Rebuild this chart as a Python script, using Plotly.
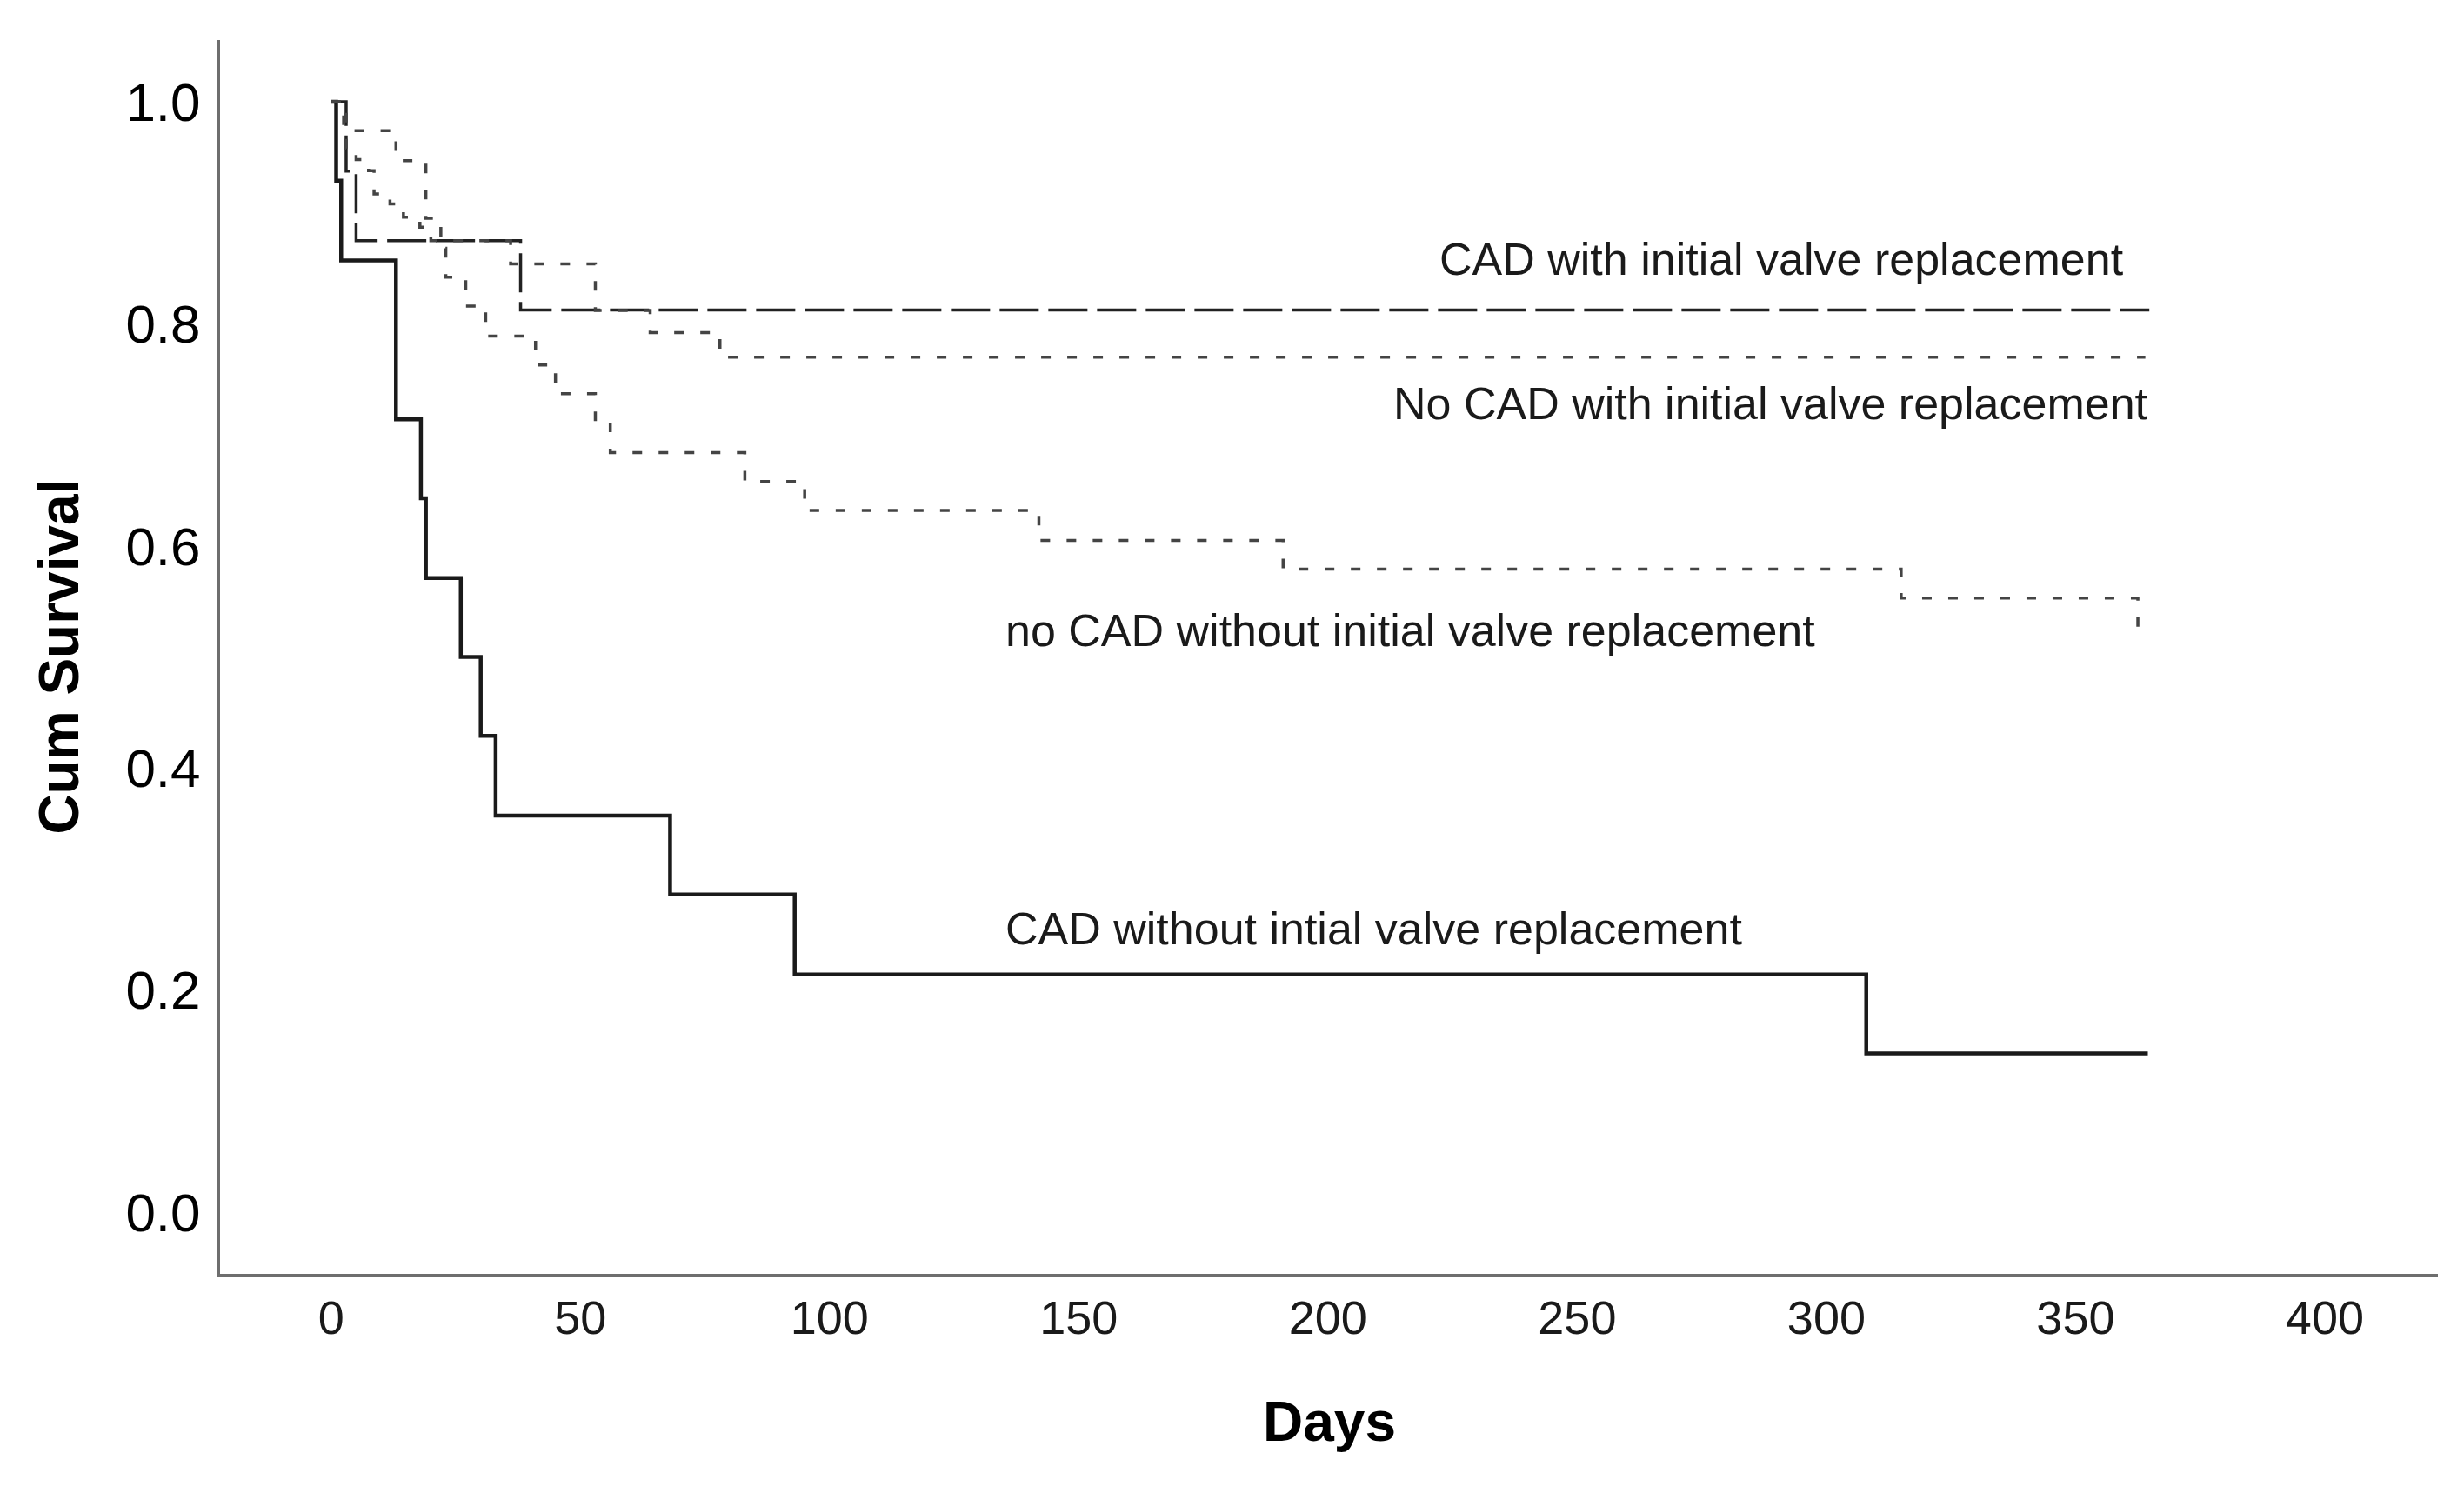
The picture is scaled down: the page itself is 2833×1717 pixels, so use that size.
import plotly.graph_objects as go

# ---- data ----
cad_without_days = [0, 1, 2, 13, 18, 19, 26, 30, 33, 68, 93, 308, 364.5]
cad_without_surv = [1.0, 0.929, 0.857, 0.714, 0.643, 0.571, 0.500, 0.429, 0.357, 0.286, 0.214, 0.143, 0.143]

cad_with_days = [0, 3, 5, 38, 364.8]
cad_with_surv = [1.0, 0.9375, 0.875, 0.8125, 0.8125]

nocad_with_days = [0, 3, 5, 7.5, 8.6, 11.8, 14.5, 17.8, 20, 36, 53, 64, 78, 364]
nocad_with_surv = [1.0, 0.958, 0.948, 0.938, 0.917, 0.908, 0.896, 0.887, 0.875, 0.854, 0.812, 0.792, 0.770, 0.770]

nocad_without_days = [0, 2.5, 13, 19, 22, 23, 27, 31, 41, 45, 53, 56, 83, 95, 142, 191, 315, 362.5, 364]
nocad_without_surv = [1.0, 0.974, 0.947, 0.895, 0.868, 0.842, 0.816, 0.789, 0.763, 0.737, 0.711, 0.684,
                      0.658, 0.632, 0.605, 0.579, 0.553, 0.526, 0.526]

x_ticks = [0, 50, 100, 150, 200, 250, 300, 350, 400]
y_ticks = [0.0, 0.2, 0.4, 0.6, 0.8, 1.0]
y_tick_text = ["0.0", "0.2", "0.4", "0.6", "0.8", "1.0"]

labels = ["CAD with initial valve replacement",
          "No CAD with initial valve replacement",
          "no CAD without initial valve replacement",
          "CAD without intial valve replacement"]
label_x = [360, 365, 135, 135]
label_y = [0.858, 0.728, 0.524, 0.255]
label_anchor = ["right", "right", "left", "left"]

FONT = "Arial, Liberation Sans, sans-serif"

fig = go.Figure()
fig.add_trace(go.Scatter(x=cad_without_days, y=cad_without_surv, mode="lines", line_shape="hv",
                         line=dict(color="#1a1a1a", width=4.5), showlegend=False))
fig.add_trace(go.Scatter(x=cad_with_days, y=cad_with_surv, mode="lines", line_shape="hv",
                         line=dict(color="#222222", width=3.5, dash="45px,11px"), showlegend=False))
fig.add_trace(go.Scatter(x=nocad_with_days, y=nocad_with_surv, mode="lines", line_shape="hv",
                         line=dict(color="#444444", width=3.5, dash="11px,19px"), showlegend=False))
fig.add_trace(go.Scatter(x=nocad_without_days, y=nocad_without_surv, mode="lines", line_shape="hv",
                         line=dict(color="#444444", width=3.5, dash="11px,19px"), showlegend=False))

for t, x, y, a in zip(labels, label_x, label_y, label_anchor):
    fig.add_annotation(x=x, y=y, xref="x", yref="y", text=t, showarrow=False,
                       xanchor=a, yanchor="middle",
                       font=dict(family=FONT, size=52, color="#1a1a1a"))

fig.add_annotation(x=-0.0729, y=0.5, xref="paper", yref="paper", text="<b>Cum Survival</b>",
                   textangle=-90, showarrow=False, xanchor="center", yanchor="middle",
                   font=dict(family=FONT, size=64, color="#000000"))
fig.add_annotation(x=0.5, y=-0.12, xref="paper", yref="paper", text="<b>Days</b>",
                   showarrow=False, xanchor="center", yanchor="middle",
                   font=dict(family=FONT, size=64, color="#000000"))

# the page body has an 8px margin, so the figure is sized to fit inside it
fig.update_layout(
    width=2817, height=1701,
    margin=dict(l=245, r=22, t=38, b=244),
    paper_bgcolor="white", plot_bgcolor="white",
    showlegend=False,
)
fig.update_xaxes(range=[-22.3, 422.7], tickvals=x_ticks, ticks="", showgrid=False, zeroline=False,
                 showline=True, linecolor="#6e6e6e", linewidth=4, ticklabelstandoff=0,
                 tickfont=dict(family=FONT, size=54, color="#1a1a1a"))
fig.update_yaxes(range=[-0.0556, 1.0556], tickvals=y_ticks, ticktext=y_tick_text, ticks="",
                 showgrid=False, zeroline=False, showline=True, linecolor="#6e6e6e", linewidth=4,
                 ticklabelstandoff=6, tickfont=dict(family=FONT, size=62, color="#000000"))

fig.write_html("out.html")
